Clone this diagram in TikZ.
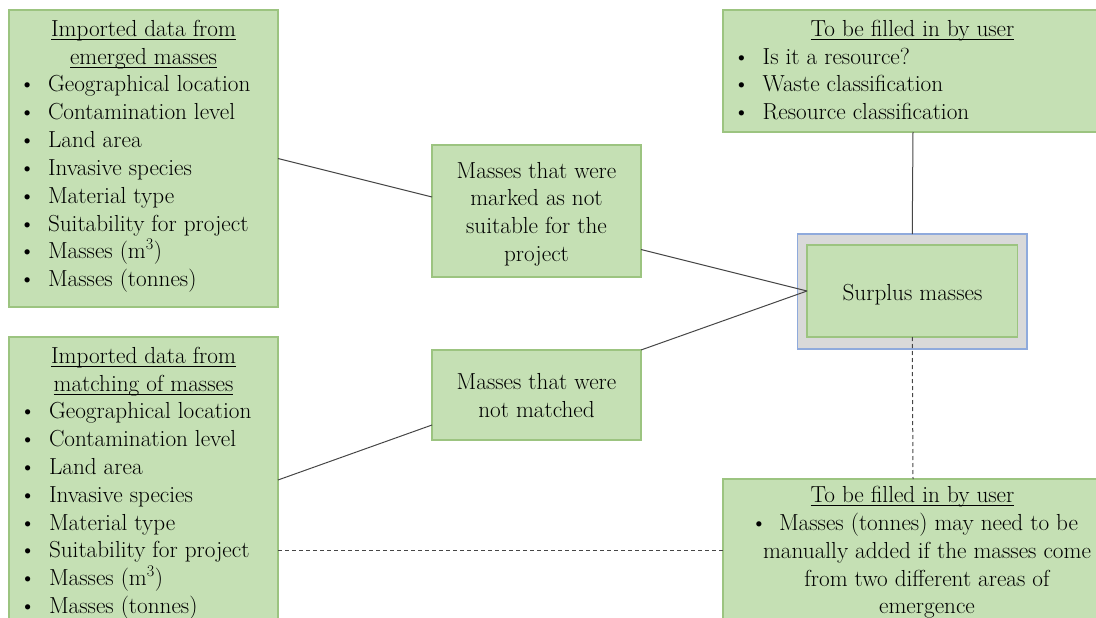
\documentclass[tikz,border=0pt]{standalone}
\usetikzlibrary{calc}
\newsavebox\myulbox
\newcommand\myul[1]{\sbox\myulbox{#1}\rlap{\rule[-3.6pt]{\wd\myulbox}{0.9pt}}\usebox\myulbox}
\definecolor{gfill}{RGB}{197,224,180}
\definecolor{gline}{RGB}{156,196,128}
\definecolor{sgray}{RGB}{217,217,217}
\definecolor{sblue}{RGB}{143,170,220}
\definecolor{conn}{RGB}{70,70,70}
\tikzset{
  gbox/.style={draw=gline, fill=gfill, line width=1.4pt, rectangle, inner sep=0, outer sep=0, anchor=north west},
  obox/.style={draw=sblue, fill=sgray, line width=1.2pt, rectangle, inner sep=0, outer sep=0, anchor=north west},
  txt/.style={inner sep=0, outer sep=0, font=\fontsize{23.2}{27}\selectfont, text=black},
  link/.style={draw=conn, line width=1pt},
  dlink/.style={draw=conn, line width=1pt, dash pattern=on 4pt off 3pt},
}
\begin{document}
\begin{tikzpicture}[x=1pt, y=-1pt]
\useasboundingbox (0,0) rectangle (1096,618);
% boxes
\node[gbox, minimum width=269pt, minimum height=297pt] (tl) at (9,10) {};
\node[gbox, minimum width=269pt, minimum height=286pt] (bl) at (9,337) {};
\node[gbox, minimum width=209pt, minimum height=132pt] (m1) at (432,145) {};
\node[gbox, minimum width=209pt, minimum height=90pt] (m2) at (432,350) {};
\node[gbox, minimum width=380pt, minimum height=122pt] (tr) at (723,10) {};
\node[obox, minimum width=229.5pt, minimum height=115pt] (spo) at (797.5,234) {};
\node[gbox, minimum width=210.5pt, minimum height=92pt] (spi) at (807,245) {};
\node[gbox, minimum width=380pt, minimum height=150pt] (br) at (723,479) {};

% top-left text
\node[txt, anchor=base] (tlh1) at (143.5,36.4) {\myul{Imported data from}};
\node[txt, anchor=base] (tlh2) at (143.5,64.2) {\myul{emerged masses}};
\foreach \t [count=\i from 0] in {Geographical location, Contamination level, Land area, Invasive species, Material type, Suitability for project, Masses (m\textsuperscript{3}), Masses (tonnes)} {
  \node[txt, anchor=base west] (tlb\i) at (19,92+27.8*\i) {\textbullet};
  \node[txt, anchor=base west] (tlt\i) at (48,92+27.8*\i) {\t};
}
% bottom-left text
\node[txt, anchor=base] (blh1) at (143.5,363.3) {\myul{Imported data from}};
\node[txt, anchor=base] (blh2) at (143.5,391.1) {\myul{matching of masses}};
\foreach \t [count=\i from 0] in {Geographical location, Contamination level, Land area, Invasive species, Material type, Suitability for project, Masses (m\textsuperscript{3}), Masses (tonnes)} {
  \node[txt, anchor=base west] (blb\i) at (19.5,418.9+27.8*\i) {\textbullet};
  \node[txt, anchor=base west] (blt\i) at (49,418.9+27.8*\i) {\t};
}
% middle boxes text
\foreach \t [count=\i from 0] in {Masses that were, marked as not, suitable for the, project} {
  \node[txt, anchor=base] (m1t\i) at (536.5,178+27.8*\i) {\t};
}
\node[txt, anchor=base] (m2t0) at (536.5,389.3) {Masses that were};
\node[txt, anchor=base] (m2t1) at (536.5,417) {not matched};
% surplus
\node[txt, anchor=base] (spt) at (912.5,300) {Surplus masses};
% top-right text
\node[txt, anchor=base] (trh) at (912.5,36.4) {\myul{To be filled in by user}};
\foreach \t [count=\i from 0] in {Is it a resource?, Waste classification, Resource classification} {
  \node[txt, anchor=base west] (trb\i) at (733,64.2+27.8*\i) {\textbullet};
  \node[txt, anchor=base west] (trt\i) at (762.7,64.2+27.8*\i) {\t};
}
% bottom-right text
\node[txt, anchor=base] (brh) at (912.5,502.7) {\myul{To be filled in by user}};
\node[txt, anchor=base west] (brb0) at (750.5,530.5) {\textbullet};
\node[txt, anchor=base west] (brt0) at (779,530.5) {Masses (tonnes) may need to be};
\node[txt, anchor=base] (brt1) at (927,558.3) {manually added if the masses come};
\node[txt, anchor=base] (brt2) at (927,586.1) {from two different areas of};
\node[txt, anchor=base] (brt3) at (927,613.9) {emergence};

% connectors
\coordinate (m1in) at ($(m1.north west)+(0,52)$);
\coordinate (m1out) at ($(m1.north east)+(0,104.5)$);
\coordinate (m2in) at ($(m2.north west)+(0,75)$);
\coordinate (bldash) at ($(bl.north east)+(0,213)$);
\coordinate (brdash) at ($(br.north west)+(0,71)$);
\draw[link] (tl.east) -- (m1in);
\draw[link] (m1out) -- (spi.west);
\draw[link] (m2.north east) -- (spi.west);
\draw[link] (bl.east) -- (m2in);
\draw[link] (tr.south) -- (spo.north);
\draw[dlink] (spi.south) -- (br.north);
\draw[dlink] (bldash) -- (brdash);
\end{tikzpicture}
\end{document}
